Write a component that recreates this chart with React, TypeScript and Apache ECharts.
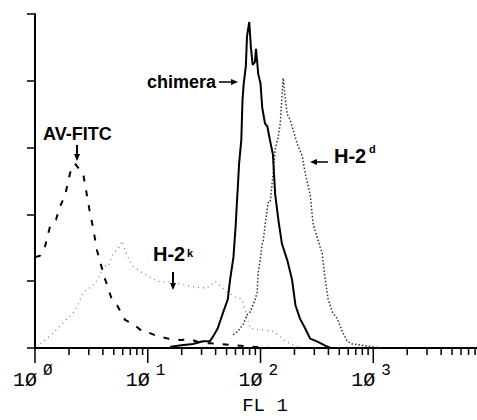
import React, { useEffect, useRef } from "react";
import * as echarts from "echarts";

// x values are log10(FL1), y values are cell counts
const avFitc: number[][] = [
  [0, 68], [0.044, 69], [0.089, 76], [0.133, 91], [0.186, 96], [0.222, 106], [0.266, 114],
  [0.311, 131], [0.355, 138], [0.39, 134], [0.426, 131], [0.453, 118], [0.488, 101],
  [0.515, 90], [0.55, 73], [0.612, 54], [0.683, 36], [0.728, 32], [0.799, 21], [0.87, 18],
  [0.958, 12], [0.994, 12], [1.083, 9], [1.18, 7], [1.287, 6], [1.376, 6.5], [1.464, 4],
  [1.553, 3.5], [1.642, 3], [1.775, 2], [1.908, 1], [2.086, 0],
];

const h2k: number[][] = [
  [0.05, 3], [0.16, 11], [0.24, 18], [0.33, 25.5], [0.373, 30.6], [0.426, 41.5], [0.515, 47],
  [0.577, 54], [0.604, 62], [0.648, 61], [0.692, 70.7], [0.737, 74], [0.772, 80], [0.817, 69],
  [0.87, 61], [0.958, 56], [1.083, 50], [1.225, 49], [1.349, 46.7], [1.464, 45], [1.527, 45],
  [1.598, 50], [1.686, 43], [1.775, 38], [1.837, 36.5], [1.908, 14.6], [1.997, 13.8],
  [2.121, 12.4], [2.219, 5], [2.352, 0],
];

const chimera: number[][] = [
  [1.2, 1], [1.3, 2], [1.4, 3], [1.49, 5], [1.55, 5], [1.58, 8.7], [1.62, 14.6], [1.67, 27],
  [1.71, 36.5], [1.73, 51], [1.76, 68], [1.78, 92], [1.79, 108], [1.8, 122], [1.81, 138],
  [1.83, 156], [1.84, 185], [1.85, 197], [1.87, 211], [1.88, 233], [1.9, 244], [1.915, 225],
  [1.93, 212], [1.95, 214], [1.96, 224], [1.98, 205], [2.0, 198], [2.015, 180], [2.04, 168],
  [2.06, 166], [2.09, 153], [2.11, 145], [2.13, 115], [2.16, 95], [2.19, 78], [2.24, 65],
  [2.28, 51], [2.31, 32], [2.35, 22], [2.4, 14], [2.44, 7], [2.5, 5], [2.57, 2], [2.62, 0],
];

const h2d: number[][] = [
  [1.757, 10], [1.793, 12], [1.846, 17.5], [1.882, 25], [1.908, 27], [1.953, 36.5],
  [1.97, 41.5], [1.979, 56], [1.997, 65.6], [2.015, 78], [2.024, 80], [2.041, 92.6],
  [2.068, 109], [2.086, 109], [2.112, 131], [2.13, 149], [2.157, 158], [2.175, 168],
  [2.201, 202], [2.219, 187], [2.237, 175], [2.263, 170.6], [2.29, 163], [2.325, 153],
  [2.37, 143.6], [2.396, 131], [2.441, 114.5], [2.467, 92.6], [2.512, 80], [2.547, 70.7],
  [2.574, 51], [2.6, 36.5], [2.636, 27], [2.68, 22], [2.725, 12.4], [2.769, 5], [2.814, 3],
  [2.947, 1.5], [3.06, 0],
];

const decades = [0, 1, 2, 3];
const decadeBase = "1Ø";
const decadeExp = ["Ø", "1", "2", "3"];
const minorMultipliers = [2, 3, 4, 5, 6, 7, 8, 9];
const X_MAX = 3.92;

export default function App() {
  const ref = useRef<HTMLDivElement>(null);
  useEffect(() => {
    if (!ref.current) return;
    const chart = echarts.init(ref.current, undefined, { renderer: "svg" });

    const tickData: number[][] = [];
    decades.forEach((d) => {
      tickData.push([d, 15]);
      minorMultipliers.forEach((m) => {
        const v = d + Math.log10(m);
        if (v <= X_MAX) tickData.push([v, 7]);
      });
    });
    const labelData = decades.map((d, i) => [d, 0, i]);

    const textStyle = { fontFamily: "Liberation Sans", fontWeight: "bold", fill: "#000" };

    chart.setOption({
      animation: false,
      backgroundColor: "#fff",
      grid: { left: 35, right: 0, top: 14, bottom: 63 },
      xAxis: {
        type: "value",
        min: 0,
        max: X_MAX,
        interval: 1,
        splitLine: { show: false },
        axisTick: { show: false },
        axisLine: { lineStyle: { color: "#000", width: 2 } },
        axisLabel: { show: false },
        name: "FL 1",
        nameLocation: "middle",
        nameGap: 48,
        nameTextStyle: { fontFamily: "Liberation Mono", fontSize: 19, color: "#000", padding: [0, 0, 0, 18] },
      },
      yAxis: {
        type: "value",
        min: 0,
        max: 250,
        interval: 50,
        splitLine: { show: false },
        axisLabel: { show: false },
        axisTick: { length: 8, lineStyle: { color: "#000", width: 1.5 } },
        axisLine: { show: true, lineStyle: { color: "#000", width: 2 } },
      },
      series: [
        {
          type: "line", name: "H-2k", data: h2k, showSymbol: false, symbol: "none",
          lineStyle: { color: "#777", width: 1.2, type: [1, 4] },
        },
        {
          type: "line", name: "AV-FITC", data: avFitc, showSymbol: false, symbol: "none",
          lineStyle: { color: "#000", width: 2, type: [6, 9] },
        },
        {
          type: "line", name: "H-2d", data: h2d, showSymbol: false, symbol: "none",
          lineStyle: { color: "#333", width: 1.5, type: [1.5, 2] },
        },
        {
          type: "line", name: "chimera", data: chimera, showSymbol: false, symbol: "none",
          lineStyle: { color: "#000", width: 2 },
        },
        {
          type: "custom",
          clip: false,
          silent: true,
          data: tickData,
          renderItem: (params: any, api: any) => {
            const p = api.coord([api.value(0), 0]);
            return {
              type: "line",
              shape: { x1: p[0], y1: p[1], x2: p[0], y2: p[1] + api.value(1) },
              style: { stroke: "#000", lineWidth: 1.5 },
            };
          },
        },
        {
          type: "custom",
          clip: false,
          silent: true,
          data: labelData,
          renderItem: (params: any, api: any) => {
            const p = api.coord([api.value(0), 0]);
            const i = api.value(2);
            return {
              type: "group",
              children: [
                {
                  type: "text",
                  x: p[0] + 2,
                  y: p[1] + 32,
                  style: {
                    text: decadeBase, fontFamily: "Liberation Mono", fontSize: 20, fill: "#000",
                    align: "right", verticalAlign: "middle",
                  },
                },
                {
                  type: "text",
                  x: p[0] + 8,
                  y: p[1] + 23,
                  style: {
                    text: decadeExp[i], fontFamily: "Liberation Mono", fontSize: 16, fill: "#000",
                    align: "left", verticalAlign: "middle",
                  },
                },
              ],
            };
          },
        },
      ],
      graphic: [
        { type: "text", left: 43, top: 125, style: { ...textStyle, text: "AV-FITC", fontSize: 18 } },
        { type: "line", shape: { x1: 77, y1: 145, x2: 77, y2: 156 }, style: { stroke: "#000", lineWidth: 2 } },
        { type: "polygon", shape: { points: [[74, 154], [80, 154], [77, 161]] }, style: { fill: "#000" } },

        { type: "text", left: 147, top: 73, style: { ...textStyle, text: "chimera", fontSize: 18 } },
        { type: "line", shape: { x1: 219, y1: 82, x2: 233, y2: 82 }, style: { stroke: "#000", lineWidth: 1.5 } },
        { type: "polygon", shape: { points: [[231, 79], [238, 82], [231, 85]] }, style: { fill: "#000" } },

        { type: "text", left: 153, top: 244, style: { ...textStyle, text: "H-2", fontSize: 20 } },
        { type: "text", left: 187, top: 247, style: { ...textStyle, text: "k", fontSize: 11 } },
        { type: "line", shape: { x1: 173, y1: 272, x2: 173, y2: 284 }, style: { stroke: "#000", lineWidth: 2 } },
        { type: "polygon", shape: { points: [[170, 283], [176, 283], [173, 290]] }, style: { fill: "#000" } },

        { type: "line", shape: { x1: 315, y1: 162, x2: 328, y2: 162 }, style: { stroke: "#000", lineWidth: 1.5 } },
        { type: "polygon", shape: { points: [[317, 159], [310, 162], [317, 165]] }, style: { fill: "#000" } },
        { type: "text", left: 334, top: 146, style: { ...textStyle, text: "H-2", fontSize: 20 } },
        { type: "text", left: 369, top: 143, style: { ...textStyle, text: "d", fontSize: 11 } },
      ],
    });
    return () => chart.dispose();
  }, []);
  return <div ref={ref} style={{ position: "fixed", left: 0, top: 0, width: 477, height: 420 }} />;
}
